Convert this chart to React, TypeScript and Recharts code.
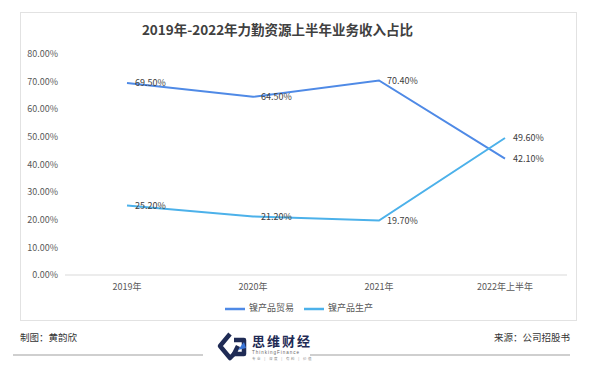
import React from 'react'
import { LineChart, Line, XAxis, YAxis, Legend, LabelList } from 'recharts'

const categories = ['2019年', '2020年', '2021年', '2022年上半年']
const trade = [69.5, 64.5, 70.4, 42.1]
const production = [25.2, 21.2, 19.7, 49.6]
const yTicks = [0, 10, 20, 30, 40, 50, 60, 70, 80]

const data = categories.map((name, i) => ({
  name,
  trade: trade[i],
  production: production[i]
}))

const FONT = '"Noto Sans CJK SC", "Noto Sans", sans-serif'
const pct = (v: number) => `${v.toFixed(2)}%`

const Logo = () => (
  <svg width={100} height={34} viewBox="0 0 100 34">
    <g fill="none" stroke="#1f2b55" strokeWidth={4.5} strokeLinejoin="round">
      <path d="M14 4 L4 16 L14 28 L20 22" />
      <path d="M18 10 L28 10 L28 24 L18 24 L22 16" />
    </g>
    <path d="M22 20 L28 12 L30 18 Z" fill="#3a76d8" />
    <text x={36} y={16} fontSize={13} fontWeight={700} fill="#1f2b55" letterSpacing={2} fontFamily={FONT}>
      思维财经
    </text>
    <text x={36} y={24} fontSize={4.5} fill="#666" letterSpacing={1} fontFamily="Arial">
      ThinkingFinance
    </text>
    <text x={36} y={30} fontSize={3.5} fill="#888" letterSpacing={1.5} fontFamily={FONT}>
      专业 | 深度 | 有料 | 价值
    </text>
  </svg>
)

const App = () => (
  <div style={{ position: 'absolute', left: 0, top: 0, width: 600, height: 378, background: '#fff', fontFamily: FONT }}>
    <div
      style={{
        position: 'absolute',
        left: 20,
        top: 12,
        width: 557,
        height: 309,
        border: '1px solid #e2e2e2',
        boxSizing: 'border-box'
      }}
    >
      <div
        style={{
          position: 'absolute',
          left: 0,
          width: 513,
          top: 6,
          textAlign: 'center',
          fontSize: 13.5,
          fontWeight: 700,
          color: '#404040'
        }}
      >
        2019年-2022年力勤资源上半年业务收入占比
      </div>
      <LineChart
        width={555}
        height={307}
        data={data}
        margin={{ top: 41, right: 9, left: 0, bottom: 1 }}
        style={{ fontFamily: FONT }}
      >
        <XAxis
          dataKey="name"
          axisLine={{ stroke: '#d9d9d9' }}
          tickLine={false}
          tick={{ fontSize: 9, fill: '#595959' }}
          tickMargin={3}
          height={24}
          padding={{ left: 62, right: 62 }}
        />
        <YAxis
          domain={[0, 80]}
          ticks={yTicks}
          tickFormatter={pct}
          axisLine={false}
          tickLine={false}
          tick={{ fontSize: 9, fill: '#595959' }}
          tickMargin={1}
          width={44}
        />
        <Legend
          verticalAlign="bottom"
          align="center"
          iconType="plainline"
          iconSize={20}
          itemSorter={(item: any) => (item.dataKey === 'trade' ? 0 : 1)}
          wrapperStyle={{ bottom: 1, fontSize: 9, color: '#595959', left: 10 }}
          formatter={(value) => <span style={{ color: '#595959' }}>{value}</span>}
        />
        <Line
          name="镍产品贸易"
          dataKey="trade"
          stroke="#4f8ae6"
          strokeWidth={2}
          dot={false}
          isAnimationActive={false}
        >
          <LabelList dataKey="trade" position="right" offset={8} formatter={pct} fontSize={9} fill="#404040" />
        </Line>
        <Line
          name="镍产品生产"
          dataKey="production"
          stroke="#4cb1ea"
          strokeWidth={2}
          dot={false}
          isAnimationActive={false}
        >
          <LabelList dataKey="production" position="right" offset={8} formatter={pct} fontSize={9} fill="#404040" />
        </Line>
      </LineChart>
    </div>
    <div style={{ position: 'absolute', left: 20, top: 330, fontSize: 9.5, color: '#333' }}>制图：黄韵欣</div>
    <div style={{ position: 'absolute', right: 30, top: 330, fontSize: 9.5, color: '#333' }}>来源：公司招股书</div>
    <div style={{ position: 'absolute', left: 13, top: 354, width: 190, height: 2, background: '#cfcfcf' }} />
    <div style={{ position: 'absolute', left: 310, top: 354, width: 260, height: 2, background: '#cfcfcf' }} />
    <div style={{ position: 'absolute', left: 216, top: 330 }}>
      <Logo />
    </div>
  </div>
)

export default App
